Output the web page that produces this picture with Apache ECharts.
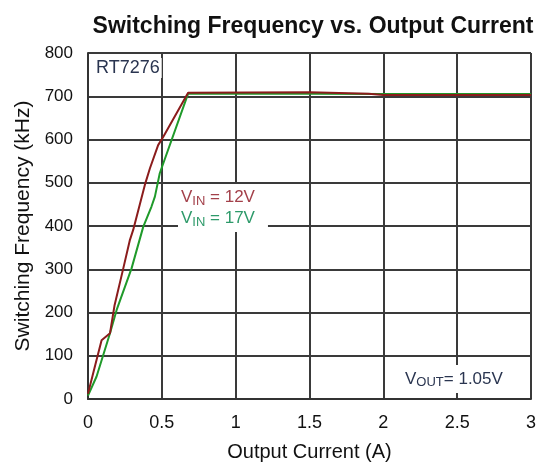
<!DOCTYPE html>
<html>
<head>
<meta charset="utf-8">
<script src="https://cdn.jsdelivr.net/npm/echarts@6/dist/echarts.min.js"></script>
<style>
html, body { margin: 0; padding: 0; background: #fff; }
#chart { width: 539px; height: 469px; }
</style>
</head>
<body>
<div id="chart"></div>
<script>
// curve: [current (A), frequency (kHz)]
var vin12 = [[0, 12], [0.05, 80], [0.092, 136], [0.149, 152], [0.18, 217], [0.239, 302], [0.284, 368],
	[0.306, 391], [0.385, 495], [0.419, 533], [0.475, 587], [0.509, 606], [0.678, 708], [1.5, 709], [1.9, 706], [2, 703], [3, 703]];
var vin17 = [[0, 8], [0.058, 52], [0.149, 152], [0.194, 206], [0.295, 302], [0.374, 398], [0.43, 445],
	[0.453, 468], [0.486, 522], [0.678, 706], [1.5, 706], [2, 705], [3, 705]];
var xTicks = [0, 0.5, 1, 1.5, 2, 2.5, 3];
var yTicks = [0, 100, 200, 300, 400, 500, 600, 700, 800];

var chart = echarts.init(document.getElementById('chart'));

var option = {
	animation : false,
	title : {
		text : 'Switching Frequency vs. Output Current',
		left : 308,
		top : 10,
		textAlign : 'center',
		textStyle : {
			fontFamily : 'Liberation Sans',
			fontWeight : 'bold',
			fontSize : 23,
			color : '#111'
		}
	},
	grid : {
		left : 88,
		right : 7,
		top : 53,
		bottom : 70
	},
	xAxis : {
		type : 'value',
		min : 0,
		max : 3,
		interval : 0.5,
		name : 'Output Current (A)',
		nameLocation : 'middle',
		nameGap : 43,
		nameTextStyle : { fontFamily : 'Liberation Sans', fontSize : 20, color : '#111' },
		axisLine : { show : true, lineStyle : { color : '#333', width : 2 } },
		axisTick : { show : false },
		splitLine : { show : true, lineStyle : { color : '#3a3a3a', width : 2 } },
		axisLabel : {
			fontFamily : 'Liberation Sans', fontSize : 18, color : '#111', margin : 15,
			formatter : function (v) { return xTicks.indexOf(v) >= 0 ? String(v) : ''; }
		}
	},
	yAxis : {
		type : 'value',
		min : 0,
		max : 800,
		interval : 100,
		name : 'Switching Frequency (kHz)',
		nameLocation : 'middle',
		nameGap : 54,
		nameTextStyle : { fontFamily : 'Liberation Sans', fontSize : 21, color : '#111' },
		axisLine : { show : true, lineStyle : { color : '#333', width : 2 } },
		axisTick : { show : false },
		splitLine : { show : true, lineStyle : { color : '#3a3a3a', width : 2 } },
		axisLabel : {
			fontFamily : 'Liberation Sans', fontSize : 17, color : '#111', margin : 15,
			formatter : function (v) { return yTicks.indexOf(v) >= 0 ? String(v) : ''; }
		}
	},
	series : [
		{
			name : 'VIN = 12V',
			type : 'line',
			data : vin12,
			symbol : 'none',
			z : 3,
			lineStyle : { color : '#8b1c1c', width : 2 }
		},
		{
			name : 'VIN = 17V',
			type : 'line',
			data : vin17,
			symbol : 'none',
			z : 2,
			lineStyle : { color : '#1f9a2a', width : 2 }
		}
	],
	graphic : [
		{
			type : 'text',
			left : 94,
			top : 58,
			z : 10,
			style : {
				text : 'RT7276',
				font : '18px "Liberation Sans"',
				fill : '#2a3550',
				backgroundColor : '#fff',
				padding : [1, 2]
			}
		},
		{
			type : 'text',
			left : 178,
			top : 184,
			z : 10,
			style : {
				text : '{a|V}{s|IN}{a| = 12V}\n{b|V}{t|IN}{b| = 17V}',
				backgroundColor : '#fff',
				padding : [3, 13, 3, 3],
				rich : {
					a : { font : '17px "Liberation Sans"', fill : '#a3404a', lineHeight : 21 },
					s : { font : '13px "Liberation Sans"', fill : '#a3404a', lineHeight : 21, verticalAlign : 'bottom' },
					b : { font : '17px "Liberation Sans"', fill : '#2e9a6a', lineHeight : 21 },
					t : { font : '13px "Liberation Sans"', fill : '#2e9a6a', lineHeight : 21, verticalAlign : 'bottom' }
				}
			}
		},
		{
			type : 'text',
			left : 401,
			top : 365,
			z : 10,
			style : {
				text : '{a|V}{s|OUT}{a|= 1.05V}',
				backgroundColor : '#fff',
				padding : [4, 4],
				rich : {
					a : { font : '17px "Liberation Sans"', fill : '#2a3550', lineHeight : 20 },
					s : { font : '13px "Liberation Sans"', fill : '#2a3550', lineHeight : 20, verticalAlign : 'bottom' }
				}
			}
		}
	]
};

chart.setOption(option);
window.onresize = chart.resize;
</script>
</body>
</html>
